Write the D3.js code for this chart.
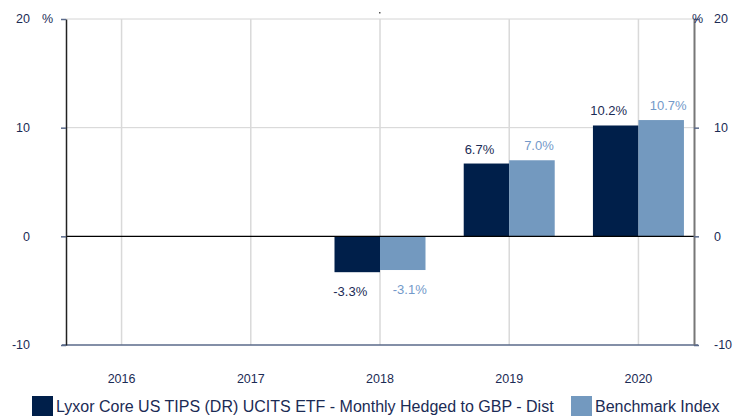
<!DOCTYPE html>
<html>
<head>
<meta charset="utf-8">
<script src="https://cdn.jsdelivr.net/npm/d3@7"></script>
<style>
  body { margin: 0; background: #fff; }
  svg { display: block; font-family: "Liberation Sans", Arial, sans-serif; }
</style>
</head>
<body>
<div id="chart"></div>
<script>
// dữ liệu
var years = ["2016", "2017", "2018", "2019", "2020"];
var fundValues = [null, null, -3.3, 6.7, 10.2];
var benchValues = [null, null, -3.1, 7.0, 10.7];
var yTicks = [-10, 0, 10, 20];
var seriesNames = ["Lyxor Core US TIPS (DR) UCITS ETF - Monthly Hedged to GBP - Dist", "Benchmark Index"];

var dark = "#001f4a", light = "#7399bf", textCol = "#1b2b55", lightText = "#7399c9";

var W = 737, H = 416;
var pL = 66, pR = 694, pT = 19, pB = 345;

var svg = d3.select("#chart").append("svg").attr("width", W).attr("height", H);

var y = d3.scaleLinear().domain([-10, 20]).range([pB, pT]);
var x = d3.scalePoint().domain(years).range([pL, pR]).padding(0.43);
var bw = 45.5;

// lưới ngang
svg.selectAll(".hgrid")
   .data(yTicks.filter(d => d > 0))
   .enter().append("line")
   .attr("x1", pL).attr("x2", pR)
   .attr("y1", d => y(d)).attr("y2", d => y(d))
   .attr("stroke", "#d4d4d4").attr("stroke-width", 1);

// lưới dọc
svg.selectAll(".vgrid")
   .data(years)
   .enter().append("line")
   .attr("x1", d => x(d)).attr("x2", d => x(d))
   .attr("y1", pT).attr("y2", pB)
   .attr("stroke", "#d9d9d9").attr("stroke-width", 1.5);

// cột
var rows = years.map((yr, i) => ({ year: yr, fund: fundValues[i], bench: benchValues[i] }))
                .filter(d => d.fund != null);

svg.selectAll(".bar-fund")
   .data(rows)
   .enter().append("rect")
   .attr("x", d => x(d.year) - bw)
   .attr("y", d => y(Math.max(0, d.fund)))
   .attr("width", bw)
   .attr("height", d => Math.abs(y(d.fund) - y(0)))
   .attr("fill", dark);

svg.selectAll(".bar-bench")
   .data(rows)
   .enter().append("rect")
   .attr("x", d => x(d.year))
   .attr("y", d => y(Math.max(0, d.bench)))
   .attr("width", bw)
   .attr("height", d => Math.abs(y(d.bench) - y(0)))
   .attr("fill", light);

// nhãn giá trị
function labelY(v) { return v >= 0 ? y(v) - 10 : y(v) + 24; }
svg.selectAll(".lab-fund")
   .data(rows)
   .enter().append("text")
   .attr("x", d => x(d.year) - bw / 2 - 7)
   .attr("y", d => labelY(d.fund))
   .attr("text-anchor", "middle")
   .attr("font-size", 13)
   .attr("fill", textCol)
   .text(d => d.fund.toFixed(1) + "%");

svg.selectAll(".lab-bench")
   .data(rows)
   .enter().append("text")
   .attr("x", d => x(d.year) + bw / 2 + 7)
   .attr("y", d => labelY(d.bench))
   .attr("text-anchor", "middle")
   .attr("font-size", 13)
   .attr("fill", lightText)
   .text(d => d.bench.toFixed(1) + "%");

// đường 0
svg.append("line")
   .attr("x1", pL).attr("x2", pR)
   .attr("y1", y(0)).attr("y2", y(0))
   .attr("stroke", "#000").attr("stroke-width", 1.2);

// đáy
svg.append("line")
   .attr("x1", pL - 4).attr("x2", pR + 4)
   .attr("y1", pB).attr("y2", pB)
   .attr("stroke", "#5a6a8a").attr("stroke-width", 1.5);

// trục trái
svg.append("g")
   .attr("transform", `translate(${pL},0)`)
   .call(d3.axisLeft(y).tickValues(yTicks).tickSize(5).tickSizeOuter(0).tickFormat(""))
   .call(g => g.select(".domain").attr("stroke", "#222").attr("stroke-width", 1.5))
   .call(g => g.selectAll(".tick line").attr("stroke", "#5a6a8a").attr("stroke-width", 1.5));

// trục phải
svg.append("g")
   .attr("transform", `translate(${pR},0)`)
   .call(d3.axisRight(y).tickValues(yTicks).tickSize(5).tickSizeOuter(0).tickFormat(""))
   .call(g => g.select(".domain").attr("stroke", "#777").attr("stroke-width", 2))
   .call(g => g.selectAll(".tick line").attr("stroke", "#5a6a8a").attr("stroke-width", 1.5));

// nhãn trục y
svg.selectAll(".ytl")
   .data(yTicks)
   .enter().append("text")
   .attr("x", 30).attr("y", d => y(d)).attr("dy", "0.35em")
   .attr("text-anchor", "end").attr("font-size", 12.5).attr("fill", textCol)
   .text(d => d);

svg.selectAll(".ytr")
   .data(yTicks)
   .enter().append("text")
   .attr("x", 714).attr("y", d => y(d)).attr("dy", "0.35em")
   .attr("text-anchor", "start").attr("font-size", 12.5).attr("fill", textCol)
   .text(d => d);

svg.append("text").attr("x", 42).attr("y", y(20)).attr("dy", "0.35em")
   .attr("font-size", 12.5).attr("fill", textCol).text("%");
svg.append("text").attr("x", 692).attr("y", y(20)).attr("dy", "0.35em")
   .attr("font-size", 12.5).attr("fill", textCol).text("%");

// nhãn năm
svg.selectAll(".xl")
   .data(years)
   .enter().append("text")
   .attr("x", d => x(d)).attr("y", 383)
   .attr("text-anchor", "middle").attr("font-size", 12.5).attr("fill", textCol)
   .text(d => d);

// dấu chấm nhỏ trên cùng
svg.append("rect").attr("x", 379).attr("y", 12).attr("width", 1.5).attr("height", 1.5).attr("fill", "#555");

// chú thích
var legend = [
  { name: seriesNames[0], color: dark, x: 32, tx: 56 },
  { name: seriesNames[1], color: light, x: 571, tx: 595 }
];
svg.selectAll(".lg-box")
   .data(legend)
   .enter().append("rect")
   .attr("x", d => d.x).attr("y", 396)
   .attr("width", 21).attr("height", 20)
   .attr("fill", d => d.color);
svg.selectAll(".lg-text")
   .data(legend)
   .enter().append("text")
   .attr("x", d => d.tx).attr("y", 412)
   .attr("font-size", 16).attr("fill", textCol)
   .text(d => d.name);
</script>
</body>
</html>
